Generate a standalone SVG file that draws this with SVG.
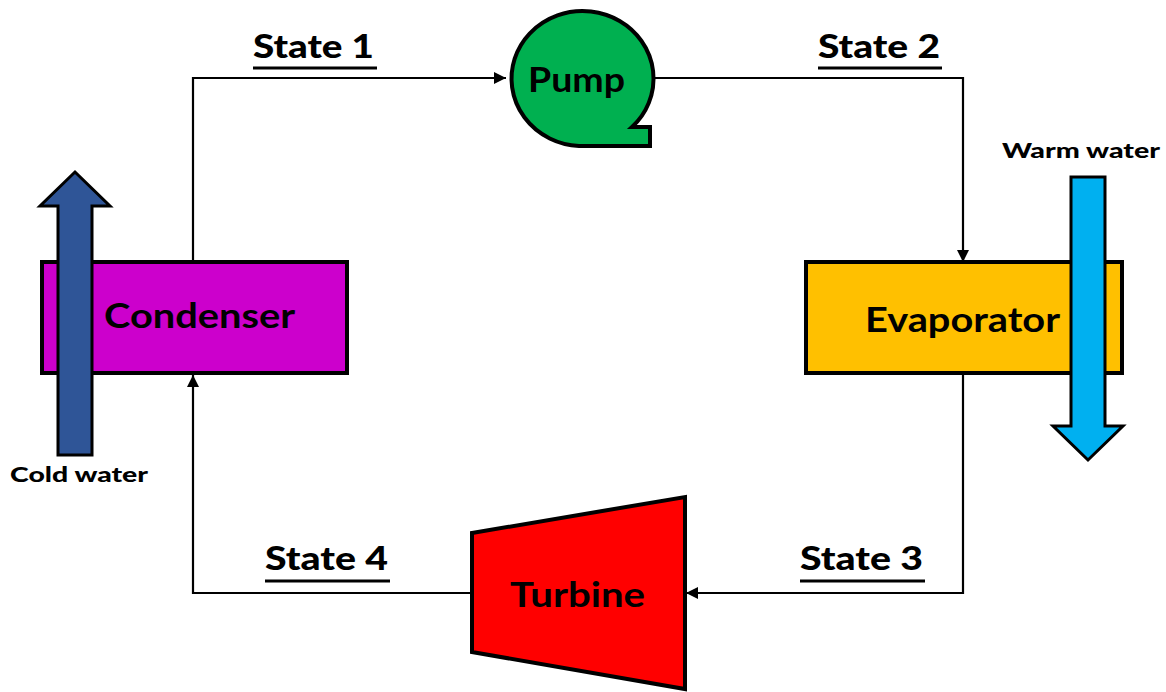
<svg xmlns="http://www.w3.org/2000/svg" width="1166" height="692" viewBox="0 0 1166 692">
  <defs>
    <marker id="arrow" viewBox="0 0 12 12" refX="12" refY="6" markerWidth="12" markerHeight="12" markerUnits="userSpaceOnUse" orient="auto">
      <path d="M0,0 L12,6 L0,12 Z" fill="#000"/>
    </marker>
    <style>
      .lbl { font-family: Lato, "Open Sans", "Liberation Sans", sans-serif; font-weight: 900; fill: #000; }
      .state { font-size: 33px; }
      .uline { stroke: #000; stroke-width: 3; }
      .unit { font-size: 35px; font-weight: bold; }
      .water { font-size: 21px; }
      .pipe { fill: none; stroke: #000; stroke-width: 2.2; }
      .shape { stroke: #000; stroke-width: 4; stroke-linejoin: miter; }
      .flow { stroke: #000; stroke-width: 3; stroke-linejoin: miter; }
    </style>
  </defs>
  <rect width="1166" height="692" fill="#fff"/>

  <!-- piping between components -->
  <g id="connectors">
    <polyline class="pipe" points="193,262 193,78 506,78" marker-end="url(#arrow)"/>
    <polyline class="pipe" points="650,78 963,78 963,262" marker-end="url(#arrow)"/>
    <polyline class="pipe" points="963,374 963,593 686,593" marker-end="url(#arrow)"/>
    <polyline class="pipe" points="472,593 193,593 193,375" marker-end="url(#arrow)"/>
  </g>

  <!-- state labels, underlined -->
  <g id="state-labels">
    <text class="lbl state" x="253" y="58" textLength="121" lengthAdjust="spacingAndGlyphs">State 1</text>
    <line class="uline" x1="253" y1="68" x2="377" y2="68"/>
    <text class="lbl state" x="818" y="58" textLength="122" lengthAdjust="spacingAndGlyphs">State 2</text>
    <line class="uline" x1="818" y1="68" x2="942" y2="68"/>
    <text class="lbl state" x="800" y="570" textLength="123" lengthAdjust="spacingAndGlyphs">State 3</text>
    <line class="uline" x1="800" y1="581" x2="925" y2="581"/>
    <text class="lbl state" x="265" y="570" textLength="123" lengthAdjust="spacingAndGlyphs">State 4</text>
    <line class="uline" x1="265" y1="581" x2="390" y2="581"/>
  </g>

  <!-- condenser with cold water stream -->
  <g id="condenser">
    <rect class="shape" x="42" y="262" width="305" height="111" fill="#CC00CC"/>
    <text class="lbl unit" x="104" y="328" textLength="191" lengthAdjust="spacingAndGlyphs">Condenser</text>
  </g>
  <g id="cold-water">
    <polygon class="flow" points="58,455 92,455 92,206 110,206 75,172 40,206 58,206" fill="#2F5597"/>
    <text class="lbl water" x="10" y="482" textLength="138" lengthAdjust="spacingAndGlyphs">Cold water</text>
  </g>

  <!-- pump -->
  <g id="pump">
    <path class="shape" d="M632,127 L650,127 L650,146 L579,146 A71,67.5 0 1 1 632,127 Z" fill="#00B050"/>
    <text class="lbl unit" x="528" y="92" textLength="97" lengthAdjust="spacingAndGlyphs">Pump</text>
  </g>

  <!-- evaporator with warm water stream -->
  <g id="evaporator">
    <rect class="shape" x="806" y="262" width="316" height="111" fill="#FFC000"/>
    <text class="lbl unit" x="865" y="332" textLength="195" lengthAdjust="spacingAndGlyphs">Evaporator</text>
  </g>
  <g id="warm-water">
    <polygon class="flow" points="1071,177 1105,177 1105,426 1123,426 1088,460 1053,426 1071,426" fill="#00B0F0"/>
    <text class="lbl water" x="1002" y="158" textLength="158" lengthAdjust="spacingAndGlyphs">Warm water</text>
  </g>

  <!-- turbine -->
  <g id="turbine">
    <polygon class="shape" points="472,533 685,497 685,689 472,652" fill="#FF0000"/>
    <text class="lbl unit" x="510" y="607" textLength="135" lengthAdjust="spacingAndGlyphs">Turbine</text>
  </g>
</svg>
